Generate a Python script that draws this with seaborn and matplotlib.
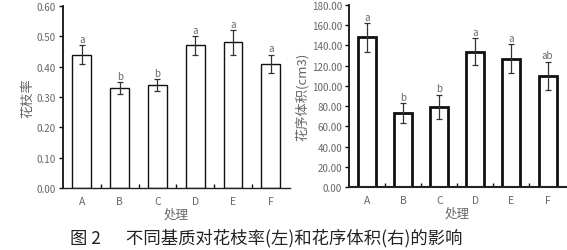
import matplotlib
matplotlib.use("Agg")
import matplotlib.pyplot as plt
import seaborn as sns
import pandas as pd
import numpy as np
from matplotlib.ticker import FixedLocator

sns.set_theme(style="white")
plt.rcParams['font.family'] = ['Noto Sans CJK SC', 'DejaVu Sans']

categories = ["A", "B", "C", "D", "E", "F"]
rate_values = [0.44, 0.33, 0.34, 0.47, 0.48, 0.41]
rate_errors = [0.03, 0.02, 0.02, 0.03, 0.04, 0.03]
rate_letters = ["a", "b", "b", "a", "a", "a"]
vol_values = [148, 73, 79, 134, 127, 110]
vol_errors = [14, 10, 12, 13, 14, 14]
vol_letters = ["a", "b", "b", "a", "a", "ab"]

left_ylabel = "花枝率"
right_ylabel = "花序体积(cm3)"
xlabel = "处理"
caption = "图 2　  不同基质对花枝率(左)和花序体积(右)的影响"

gray = "#666666"

fig = plt.figure(figsize=(5.67, 2.51), dpi=100)
ax1 = fig.add_axes([0.111, 0.247, 0.400, 0.725])
ax2 = fig.add_axes([0.6155, 0.251, 0.382, 0.725])


def draw(ax, values, errors, letters, ylabel, ymax, step, fmt, edge_lw,
         bottom_lw, letter_pad):
    df = pd.DataFrame({"cat": categories, "val": values})
    sns.barplot(data=df, x="cat", y="val", ax=ax, color="white",
                edgecolor="#111111", linewidth=edge_lw, width=0.5, errorbar=None)
    x = np.arange(len(categories))
    ax.errorbar(x, values, yerr=errors, fmt="none", ecolor="#333333",
                elinewidth=0.9, capsize=2.5, capthick=0.9)
    for xi, v, e, l in zip(x, values, errors, letters):
        ax.text(xi, v + e + letter_pad, l, ha="center", va="bottom",
                fontsize=7, color=gray)
    ax.set_xlim(-0.5, len(categories) - 0.5)
    ax.set_ylim(0, ymax)
    ticks = np.arange(0, ymax + step / 2, step)
    ax.set_yticks(ticks)
    ax.set_yticklabels([fmt.format(t) for t in ticks], fontsize=7, color=gray)
    ax.set_xticks(x)
    ax.set_xticklabels(categories, fontsize=7.5, color=gray)
    ax.xaxis.set_minor_locator(FixedLocator(x[:-1] + 0.5))
    ax.tick_params(axis="x", which="major", length=0, pad=6)
    ax.tick_params(axis="x", which="minor", direction="in", length=3,
                   width=1, color="#111111", bottom=True)
    ax.tick_params(axis="y", which="major", direction="out", length=3,
                   width=1, color="#111111", left=True, pad=2)
    ax.set_xlabel(xlabel, fontsize=9, color=gray, labelpad=1)
    ax.set_ylabel(ylabel, fontsize=9.5, color=gray, labelpad=2)
    for s in ["top", "right"]:
        ax.spines[s].set_visible(False)
    ax.spines["left"].set_color("#111111")
    ax.spines["left"].set_linewidth(1.3)
    ax.spines["bottom"].set_color("#222222")
    ax.spines["bottom"].set_linewidth(bottom_lw)


draw(ax1, rate_values, rate_errors, rate_letters, left_ylabel, 0.60, 0.10,
     "{:.2f}", 1.0, 1.0, 0.004)
draw(ax2, vol_values, vol_errors, vol_letters, right_ylabel, 180, 20,
     "{:.2f}", 2.0, 1.5, 1.5)

fig.text(0.47, 0.052, caption, ha="center", va="center", fontsize=12.5,
         color="#222222")

fig.savefig("out.png", dpi=100)
